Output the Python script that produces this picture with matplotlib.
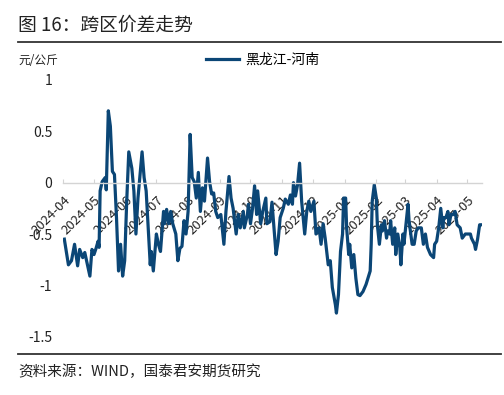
import pandas as pd
import matplotlib
matplotlib.use('Agg')
import matplotlib.pyplot as plt
import matplotlib.dates as mdates
from matplotlib.lines import Line2D

plt.rcParams['font.family'] = ['Noto Sans CJK SC', 'DejaVu Sans']
plt.rcParams['axes.unicode_minus'] = False

# values (元/公斤)
dates = [
    '2024-04-02', '2024-04-06', '2024-04-09', '2024-04-12', '2024-04-15', '2024-04-17',
    '2024-04-20', '2024-04-22', '2024-04-27', '2024-04-29', '2024-05-01', '2024-05-03',
    '2024-05-05', '2024-05-06', '2024-05-07', '2024-05-09', '2024-05-12', '2024-05-13',
    '2024-05-15', '2024-05-17', '2024-05-19', '2024-05-21', '2024-05-23', '2024-05-25',
    '2024-05-27', '2024-05-29', '2024-05-31', '2024-06-02', '2024-06-04', '2024-06-07',
    '2024-06-09', '2024-06-11', '2024-06-13', '2024-06-17', '2024-06-19', '2024-06-21',
    '2024-06-25', '2024-06-26', '2024-06-28', '2024-07-01', '2024-07-03', '2024-07-05',
    '2024-07-08', '2024-07-09', '2024-07-11', '2024-07-13', '2024-07-15', '2024-07-17',
    '2024-07-20', '2024-07-22', '2024-07-24', '2024-07-26', '2024-07-28', '2024-07-30',
    '2024-08-01', '2024-08-03', '2024-08-05', '2024-08-07', '2024-08-09', '2024-08-11',
    '2024-08-13', '2024-08-15', '2024-08-17', '2024-08-20', '2024-08-22', '2024-08-24',
    '2024-08-26', '2024-08-28', '2024-08-30', '2024-09-02', '2024-09-05', '2024-09-07',
    '2024-09-10', '2024-09-12', '2024-09-14', '2024-09-17', '2024-09-19', '2024-09-21',
    '2024-09-24', '2024-09-25', '2024-09-28', '2024-09-29', '2024-10-01', '2024-10-03',
    '2024-10-05', '2024-10-07', '2024-10-08', '2024-10-11', '2024-10-13', '2024-10-16',
    '2024-10-17', '2024-10-20', '2024-10-22', '2024-10-24', '2024-10-26', '2024-10-28',
    '2024-10-30', '2024-11-02', '2024-11-04', '2024-11-07', '2024-11-09', '2024-11-11',
    '2024-11-12', '2024-11-14', '2024-11-16', '2024-11-18', '2024-11-20', '2024-11-23',
    '2024-11-25', '2024-11-27', '2024-11-29', '2024-12-02', '2024-12-04', '2024-12-07',
    '2024-12-09', '2024-12-11', '2024-12-13', '2024-12-16', '2024-12-18', '2024-12-20',
    '2024-12-23', '2024-12-24', '2024-12-26', '2024-12-28', '2024-12-30', '2024-12-31',
    '2025-01-02', '2025-01-03', '2025-01-05', '2025-01-06', '2025-01-08', '2025-01-10',
    '2025-01-12', '2025-01-14', '2025-01-16', '2025-01-19', '2025-01-22', '2025-01-26',
    '2025-01-27', '2025-01-28', '2025-01-30', '2025-02-01', '2025-02-02', '2025-02-04',
    '2025-02-06', '2025-02-07', '2025-02-09', '2025-02-11', '2025-02-12', '2025-02-14',
    '2025-02-15', '2025-02-17', '2025-02-19', '2025-02-20', '2025-02-22', '2025-02-24',
    '2025-02-25', '2025-02-27', '2025-02-28', '2025-03-02', '2025-03-04', '2025-03-05',
    '2025-03-08', '2025-03-10', '2025-03-12', '2025-03-14', '2025-03-17', '2025-03-19',
    '2025-03-21', '2025-03-23', '2025-03-26', '2025-03-29', '2025-03-30', '2025-04-01',
    '2025-04-03', '2025-04-05', '2025-04-07', '2025-04-08', '2025-04-10', '2025-04-12',
    '2025-04-13', '2025-04-15', '2025-04-17', '2025-04-19', '2025-04-21', '2025-04-24',
    '2025-04-26', '2025-04-29', '2025-05-01', '2025-05-04', '2025-05-05', '2025-05-08',
    '2025-05-09', '2025-05-11', '2025-05-13', '2025-05-14',
]
spread = [
    -0.55, -0.80, -0.76, -0.60, -0.81, -0.65,
    -0.73, -0.68, -0.91, -0.65, -0.70, -0.64,
    -0.57, -0.63, -0.08, 0.01, 0.05, -0.07,
    0.70, 0.55, 0.11, 0.08, -0.34, -0.86,
    -0.60, -0.91, -0.76, -0.18, 0.30, 0.14,
    -0.08, -0.50, -0.15, 0.30, 0.05, -0.08,
    -0.80, -0.67, -0.86, -0.50, -0.60, -0.67,
    -0.28, -0.40, -0.26, -0.40, -0.28, -0.40,
    -0.50, -0.76, -0.64, -0.62, -0.37, -0.50,
    -0.28, 0.47, 0.05, 0.01, -0.15, 0.10,
    -0.28, -0.05, -0.18, 0.24, 0.01, -0.11,
    -0.10, -0.28, -0.34, -0.31, -0.60, -0.28,
    0.06, -0.15, -0.25, -0.50, -0.31, -0.44,
    -0.28, -0.44, -0.31, -0.21, -0.40, -0.25,
    -0.03, -0.31, -0.08, -0.40, -0.28, -0.15,
    -0.40, -0.38, -0.19, -0.45, -0.70, -0.57,
    -0.34, -0.25, -0.16, -0.21, -0.12, -0.21,
    0.00, -0.13, -0.02, 0.19, -0.18, -0.50,
    -0.28, -0.18, -0.28, -0.18, -0.50, -0.44,
    -0.60, -0.40, -0.54, -0.80, -0.76, -1.02,
    -1.19, -1.27, -1.09, -0.67, -0.50, -0.15,
    -0.15, -0.44, -0.70, -0.60, -0.83, -0.70,
    -0.93, -1.09, -1.10, -1.06, -0.99, -0.86,
    -0.60, -0.18, -0.02, -0.15, -0.41, -0.60,
    -0.41, -0.47, -0.37, -0.54, -0.47, -0.50,
    -0.37, -0.60, -0.44, -0.70, -0.50, -0.63,
    -0.80, -0.50, -0.60, -0.41, -0.21, -0.37,
    -0.60, -0.60, -0.47, -0.44, -0.44, -0.60,
    -0.50, -0.63, -0.70, -0.73, -0.60, -0.57,
    -0.44, -0.25, -0.44, -0.34, -0.34, -0.28,
    -0.41, -0.31, -0.31, -0.28, -0.41, -0.44,
    -0.54, -0.50, -0.50, -0.50, -0.54, -0.60,
    -0.65, -0.55, -0.41, -0.41,
]
series_name = '黑龙江-河南'
y_ticks = [1, 0.5, 0, -0.5, -1, -1.5]
y_labels = ['1', '0.5', '0', '-0.5', '-1', '-1.5']

df = pd.DataFrame({'date': pd.to_datetime(dates), 'spread': spread})

line_color = '#0b4676'
axis_color = '#d4d4d4'

fig = plt.figure(figsize=(5.04, 3.95), dpi=100)
ax = fig.add_axes([0.1256, 0.1476, 0.8301, 0.6499])

ax.plot(df['date'], df['spread'], color=line_color, lw=2.3, label=series_name,
        solid_joinstyle='round')

ax.set_ylim(-1.5, 1)
ax.set_xlim(pd.Timestamp('2024-04-01'), pd.Timestamp('2025-05-15'))
ax.set_yticks(y_ticks)
ax.set_yticklabels(y_labels, fontsize=10, color='#222222')
ax.tick_params(axis='y', length=0, pad=8)

# x axis sits on the zero line
for side in ['left', 'right', 'top']:
    ax.spines[side].set_visible(False)
ax.spines['bottom'].set_position(('data', 0))
ax.spines['bottom'].set_color(axis_color)
ax.spines['bottom'].set_linewidth(1.0)
ax.xaxis.set_major_locator(mdates.MonthLocator())
ax.xaxis.set_major_formatter(mdates.DateFormatter('%Y-%m'))
ax.tick_params(axis='x', direction='in', length=3, color=axis_color, pad=8,
               labelsize=9.5, labelcolor='#222222')
for lab in ax.get_xticklabels():
    lab.set_rotation(45)
    lab.set_ha('right')
    lab.set_va('top')
    lab.set_rotation_mode('anchor')
ax.set_zorder(1)

# header / footer
fig.text(0.036, 0.937, '图 16：跨区价差走势', fontsize=13.5, color='#222222', va='center')
fig.add_artist(Line2D([0.036, 0.995], [0.894, 0.894], color='#333333', lw=1.3))
fig.text(0.036, 0.848, '元/公斤', fontsize=8.5, color='#222222', va='center')
fig.legend(loc='center', bbox_to_anchor=(0.521, 0.848), frameon=False, fontsize=10,
           handlelength=2.4, handletextpad=0.4, borderpad=0)
fig.add_artist(Line2D([0.036, 0.995], [0.104, 0.104], color='#333333', lw=1.3))
fig.text(0.036, 0.058, '资料来源：WIND，国泰君安期货研究', fontsize=10.5, color='#222222', va='center')

fig.savefig('out.png', dpi=100)
